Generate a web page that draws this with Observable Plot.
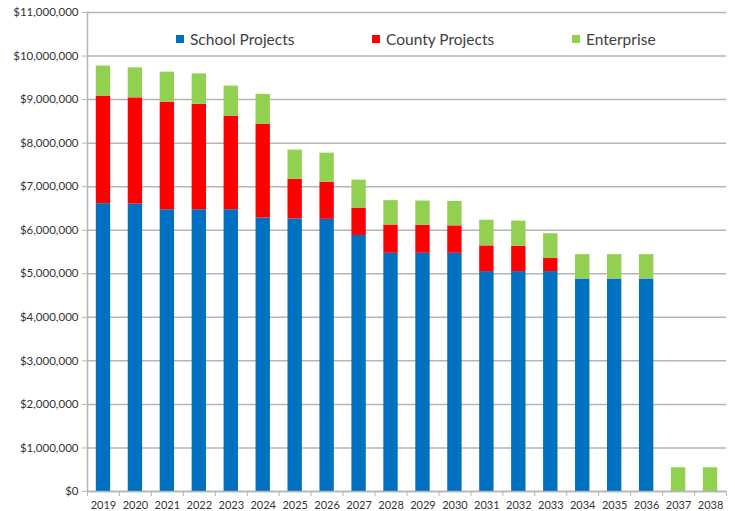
<!DOCTYPE html>
<html>
<head>
<meta charset="utf-8">
<script src="https://cdn.jsdelivr.net/npm/d3@7"></script>
<script src="https://cdn.jsdelivr.net/npm/@observablehq/plot@0.6"></script>
<style>
  html, body { margin: 0; padding: 0; background: #fff; }
  #wrap { position: relative; width: 735px; height: 511px; font-family: Lato, "Liberation Sans", sans-serif; }
  .leg { position: absolute; top: 30px; display: flex; align-items: center; font-size: 15.5px; color: #404040; white-space: nowrap; }
  .leg i { display: inline-block; width: 8px; height: 8px; margin-right: 6px; }
</style>
</head>
<body>
<div id="wrap"></div>
<script>
const years = ["2019","2020","2021","2022","2023","2024","2025","2026","2027","2028",
               "2029","2030","2031","2032","2033","2034","2035","2036","2037","2038"];
// values in millions of dollars
const school     = [6.61, 6.60, 6.47, 6.47, 6.47, 6.28, 6.26, 6.25, 5.88, 5.47,
                    5.47, 5.47, 5.05, 5.05, 5.05, 4.88, 4.88, 4.88, 0, 0];
const county     = [2.47, 2.44, 2.47, 2.42, 2.15, 2.15, 0.91, 0.85, 0.63, 0.65,
                    0.64, 0.63, 0.59, 0.58, 0.30, 0, 0, 0, 0, 0];
const enterprise = [0.69, 0.69, 0.69, 0.70, 0.69, 0.69, 0.67, 0.67, 0.64, 0.56,
                    0.56, 0.56, 0.59, 0.58, 0.57, 0.56, 0.56, 0.56, 0.545, 0.545];
const seriesNames = ["School Projects", "County Projects", "Enterprise"];
const seriesColors = ["#0070C0", "#FF0000", "#92D050"];
const yTicks = [0,1,2,3,4,5,6,7,8,9,10,11].map(d => d * 1e6);

const seriesValues = [school, county, enterprise];
const data = years.flatMap((yr, i) =>
  seriesNames.map((s, k) => ({year: yr, series: s, value: seriesValues[k][i] * 1e6})));

const W = 735, H = 511, ML = 87, MR = 9, MT = 12, MB = 20;
const step = (W - ML - MR) / years.length;

const chart = Plot.plot({
  width: W, height: H,
  marginLeft: ML, marginRight: MR, marginTop: MT, marginBottom: MB,
  style: {fontFamily: "Lato, 'Liberation Sans', sans-serif", background: "#fff", color: "#222"},
  x: {domain: years, paddingInner: 0.55, paddingOuter: 0.275, round: false, label: null},
  y: {domain: [0, 11e6], label: null},
  color: {domain: seriesNames, range: seriesColors},
  marks: [
    Plot.gridY(yTicks, {stroke: "#b5b5b5", strokeOpacity: 1, strokeWidth: 1.5}),
    Plot.barY(data, {x: "year", y: "value", fill: "series", order: seriesNames}),
    Plot.frame({anchor: "left", stroke: "#b5b5b5", strokeWidth: 1.5}),
    Plot.ruleY([0], {stroke: "#b5b5b5", strokeWidth: 1.5}),
    Plot.axisY(yTicks, {tickSize: 5, tickPadding: 4, stroke: "#b5b5b5", fill: "#333",
      fontSize: 11.5, tickFormat: d3.format("$,.0f"), label: null}),
    Plot.axisX(years, {tickSize: 5, stroke: "#b5b5b5", fill: "none", dx: -step / 2, label: null, tickFormat: () => ""}),
    Plot.axisX(years.slice(-1), {tickSize: 5, stroke: "#b5b5b5", fill: "none", dx: step / 2, label: null, tickFormat: () => ""}),
    Plot.axisX(years, {tickSize: 0, tickPadding: 10, fill: "#333", fontSize: 11, label: null})
  ]
});

const wrap = document.getElementById("wrap");
wrap.appendChild(chart);

const legendLeft = [176, 372, 572];
seriesNames.forEach((s, k) => {
  const d = document.createElement("div");
  d.className = "leg";
  d.style.left = legendLeft[k] + "px";
  d.innerHTML = `<i style="background:${seriesColors[k]}"></i><span>${s}</span>`;
  wrap.appendChild(d);
});
</script>
</body>
</html>
